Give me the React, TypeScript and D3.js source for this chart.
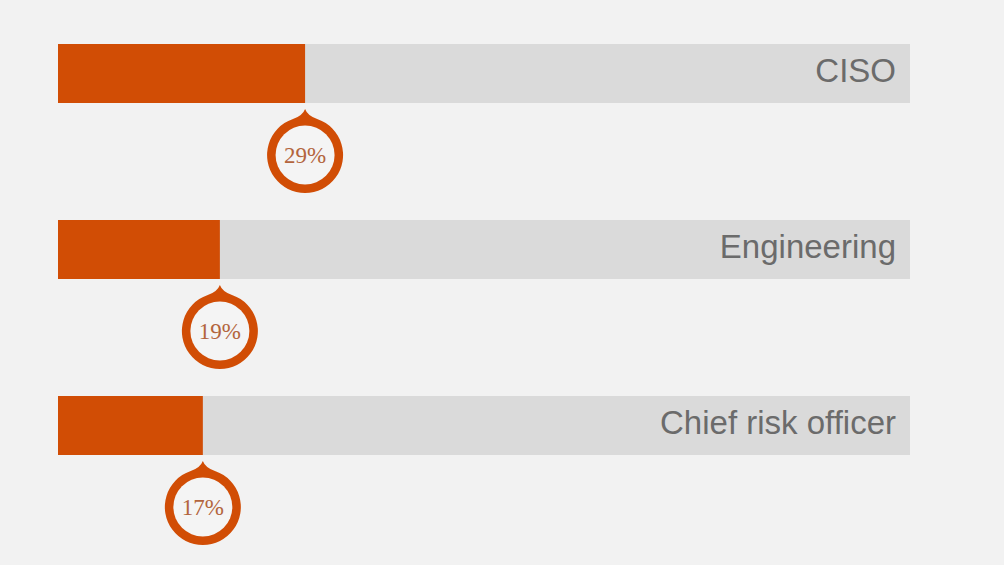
import React from "react";
import * as d3 from "d3";

const categories = ["CISO", "Engineering", "Chief risk officer"];
const values = [29, 19, 17];
const labels = ["29%", "19%", "17%"];

const W = 1004;
const H = 565;

export default function App() {
  const x = d3.scaleLinear().domain([0, 100]).range([58, 910]);
  const y = d3.scalePoint<string>().domain(categories).range([44, 396]);
  const barH = 59;
  const R = 38;
  const ring = 8.5;
  const tip = 8;

  const pinPath = (cx: number, cy: number) => {
    const top = -Math.PI / 2;
    const a = 0.34;
    const pL = [cx + R * Math.cos(top - a), cy + R * Math.sin(top - a)];
    const pR = [cx + R * Math.cos(top + a), cy + R * Math.sin(top + a)];
    const tx = cx;
    const ty = cy - R - tip;
    const path = d3.path();
    path.moveTo(tx, ty);
    path.quadraticCurveTo(cx + 2.5, cy - R - 1, pR[0], pR[1]);
    path.arc(cx, cy, R, top + a, top - a + 2 * Math.PI);
    path.quadraticCurveTo(cx - 2.5, cy - R - 1, tx, ty);
    path.closePath();
    return path.toString();
  };

  return (
    <svg
      width={W}
      height={H}
      style={{ position: "absolute", left: 0, top: 0 }}
    >
      <rect x={0} y={0} width={W} height={H} fill="#f2f2f2" />
      {categories.map((c, i) => {
        const top = y(c)!;
        const xe = x(values[i]);
        const cx = xe;
        const cy = top + barH + 52;
        return (
          <g key={c}>
            <rect x={x(0)} y={top} width={x(100) - x(0)} height={barH} fill="#dadada" />
            <rect x={x(0)} y={top} width={xe - x(0)} height={barH} fill="#d14d05" />
            <text
              x={x(100) - 14}
              y={top + 38}
              textAnchor="end"
              fontFamily="'Liberation Sans', Arial, sans-serif"
              fontSize={33}
              fill="#6b6b6b"
            >
              {c}
            </text>
            <path d={pinPath(cx, cy)} fill="#d14d05" />
            <circle cx={cx} cy={cy} r={R - ring} fill="#f4f4f4" />
            <text
              x={cx}
              y={cy + 8}
              textAnchor="middle"
              fontFamily="'Liberation Serif', 'DejaVu Serif', serif"
              fontSize={23}
              fill="#b3653d"
            >
              {labels[i]}
            </text>
          </g>
        );
      })}
    </svg>
  );
}
